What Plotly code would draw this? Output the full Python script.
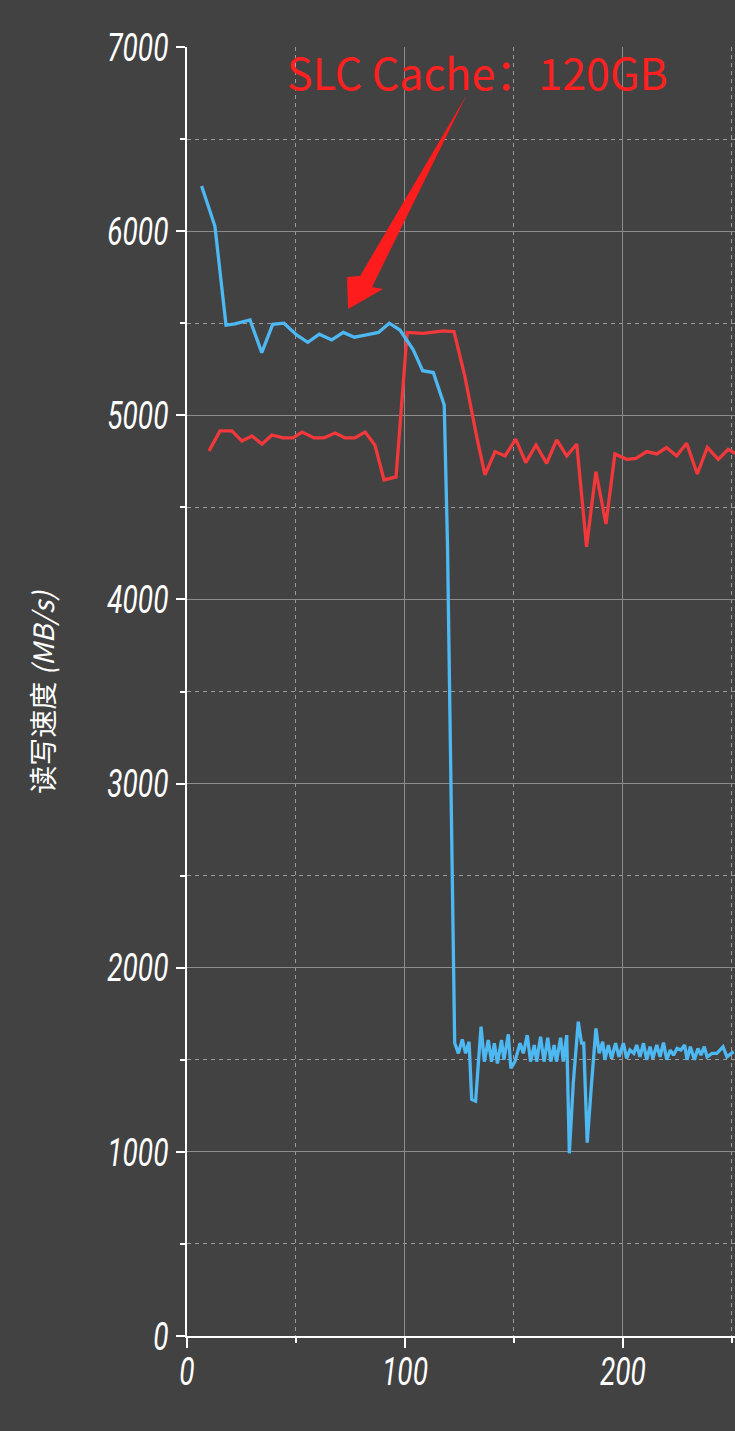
import plotly.graph_objects as go

# ---- data ----
blue_x = [6.7, 12.8, 17.9, 22.0, 28.9, 34.3, 39.3, 44.5, 50.3, 55.4, 60.7, 66.4, 71.7, 76.8,
          82.3, 87.8, 92.8, 97.7, 103.8, 108.1, 113.0, 118.0, 119.5, 121.3, 122.8,
          124.5, 126.3, 127.8, 129.4, 130.6, 132.4, 134.9, 136.4, 138.2, 139.7, 141.0, 142.4,
          144.3, 145.4, 147.4, 148.6, 150.4, 152.8, 154.3, 156.1, 157.6, 159.3, 160.4, 162.2,
          163.8, 165.5, 166.9, 168.4, 169.5, 171.4, 172.6, 174.2, 175.4, 177.2, 179.5, 181.0,
          182.0, 183.6, 185.6, 187.6, 189.1, 190.7, 191.7, 193.3, 194.8, 196.6, 198.2, 200.2,
          201.7, 203.2, 205.0, 206.3, 207.8, 209.4, 210.9, 212.4, 213.7, 215.5, 217.0, 218.6,
          220.1, 221.7, 223.2, 224.8, 226.6, 228.3, 229.4, 230.9, 232.8, 234.4, 235.8, 237.3,
          238.6, 240.9, 243.1, 245.9, 247.7, 250.8]
blue_y = [6245, 6028, 5490, 5496, 5518, 5340, 5494, 5500, 5436, 5396, 5440, 5409, 5450, 5424,
          5437, 5450, 5500, 5463, 5355, 5242, 5232, 5056, 4300, 2800, 1591,
          1535, 1611, 1535, 1598, 1285, 1276, 1680, 1490, 1607, 1490, 1590, 1480,
          1607, 1500, 1638, 1454, 1490, 1590, 1535, 1634, 1490, 1580, 1490, 1625,
          1490, 1620, 1490, 1580, 1490, 1620, 1490, 1634, 992, 1373, 1707, 1590,
          1590, 1050, 1373, 1670, 1535, 1598, 1500, 1580, 1507, 1590, 1516, 1590,
          1507, 1553, 1535, 1580, 1516, 1590, 1500, 1571, 1507, 1580, 1516, 1593,
          1500, 1553, 1525, 1562, 1553, 1580, 1500, 1571, 1500, 1562, 1525, 1571,
          1516, 1535, 1535, 1571, 1516, 1544]

red_x = [10.1, 15.1, 20.6, 25.2, 29.8, 34.4, 39.0, 44.0, 48.6, 52.8, 58.3, 62.8, 67.9, 72.5,
         77.0, 81.7, 86.2, 90.4, 95.9, 101.0, 108.4, 117.6, 122.5, 127.5, 132.9, 136.7,
         141.3, 145.9, 150.8, 155.4, 160.1, 165.0, 169.6, 174.2, 178.8, 183.3, 187.6, 192.2,
         196.3, 201.7, 206.0, 210.9, 215.5, 220.0, 224.6, 229.2, 234.1, 238.7, 243.7, 248.3, 251.4]
red_y = [4806, 4915, 4915, 4860, 4888, 4844, 4893, 4877, 4877, 4909, 4877, 4877, 4904, 4877,
         4877, 4909, 4839, 4649, 4665, 5450, 5445, 5458, 5454, 5210, 4884, 4676,
         4803, 4779, 4870, 4743, 4839, 4739, 4866, 4779, 4844, 4286, 4694, 4410,
         4790, 4761, 4766, 4803, 4790, 4825, 4779, 4848, 4681, 4826, 4761, 4815, 4793]

y_ticks = [0, 1000, 2000, 3000, 4000, 5000, 6000, 7000]
x_ticks = [0, 100, 200]
annot_text = "SLC Cache：120GB"
y_title = "读写速度 <i>(MB/s)</i>"

# arrow outline (data coordinates) pointing at the cache plateau
arrow_x = [128.3, 84.9, 89.9, 73.9, 73.4, 79.4]
arrow_y = [6739, 5697, 5686, 5577, 5751, 5757]

BG = "#424242"
BLUE = "#4db8f2"
RED = "#f2383a"
TICKFONT = dict(family="Roboto", size=39, color="white", style="italic")

fig = go.Figure()
fig.add_trace(go.Scatter(x=red_x, y=red_y, mode="lines",
                         line=dict(color=RED, width=3.3), showlegend=False))
fig.add_trace(go.Scatter(x=blue_x, y=blue_y, mode="lines",
                         line=dict(color=BLUE, width=3.3), showlegend=False))

path = "M " + " L ".join(f"{a},{b}" for a, b in zip(arrow_x, arrow_y)) + " Z"
fig.add_shape(type="path", path=path, xref="x", yref="y",
              fillcolor="#ff1c1c", line=dict(width=0))

fig.add_annotation(x=45.0, y=6870, xref="x", yref="y", text=annot_text, showarrow=False,
                   xanchor="left", yanchor="middle",
                   font=dict(family="Noto Sans CJK SC", size=43, color="#ff2020"))
fig.add_annotation(x=-0.265, y=0.4996, xref="paper", yref="paper", text=y_title,
                   showarrow=False, textangle=-90, xanchor="center", yanchor="middle",
                   font=dict(family="Noto Sans CJK SC", size=28, color="white"))

grid_common = dict(showgrid=True, gridcolor="#8c8c8c", gridwidth=1, zeroline=False,
                   showline=True, linecolor="white", linewidth=1.5,
                   ticks="outside", tickcolor="white", tickwidth=1.5,
                   tickfont=TICKFONT)

fig.update_xaxes(range=[0, 251.4], tickvals=x_ticks, ticklen=10, ticklabelstandoff=-10,
                 minor=dict(dtick=50, tick0=0, ticks="outside", ticklen=5, tickcolor="white",
                            showgrid=True, gridcolor="#9a9a9a", griddash="4px,4px", gridwidth=1),
                 **grid_common)
fig.update_yaxes(range=[0, 7000], tickvals=y_ticks, ticklen=9,
                 minor=dict(dtick=500, tick0=0, ticks="outside", ticklen=5, tickcolor="white",
                            showgrid=True, gridcolor="#9a9a9a", griddash="4px,4px", gridwidth=1),
                 **grid_common)

fig.update_layout(width=735, height=1431, paper_bgcolor=BG, plot_bgcolor=BG,
                  margin=dict(l=187, r=0, t=47, b=95), showlegend=False)

post = """
document.body.style.margin = '0';
document.body.style.background = '#424242';
function squeezeTicks() {
  document.querySelectorAll('.xtick text, .ytick text').forEach(function (t) {
    if (!t.getAttribute('data-sq')) {
      var L = t.getComputedTextLength();
      t.setAttribute('textLength', L * 0.72);
      t.setAttribute('lengthAdjust', 'spacingAndGlyphs');
      t.setAttribute('data-sq', '1');
    }
  });
}
squeezeTicks();
var gdq = document.getElementById('{plot_id}');
if (gdq && gdq.on) { gdq.on('plotly_afterplot', squeezeTicks); }
setTimeout(squeezeTicks, 50);
"""

fig.write_html("out.html", post_script=post, config={"displayModeBar": False})
